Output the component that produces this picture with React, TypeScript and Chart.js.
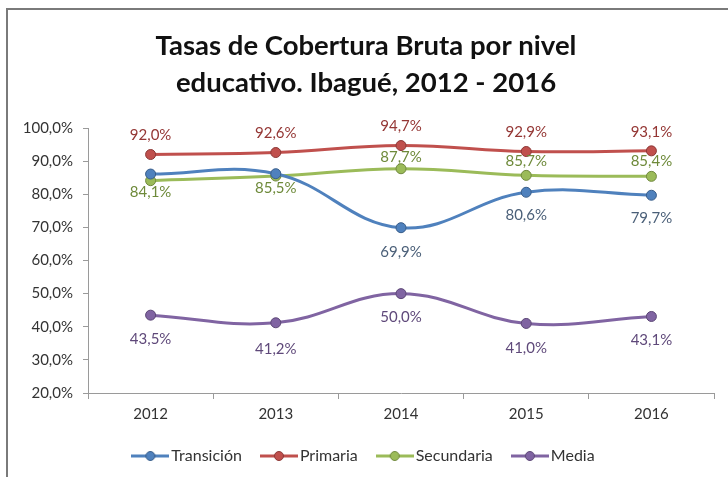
import React, { useEffect, useRef } from "react";
import { Chart, registerables } from "chart.js";

Chart.register(...registerables);

const years = ["2012", "2013", "2014", "2015", "2016"];
const seriesNames = ["Transición", "Primaria", "Secundaria", "Media"];
const transicion = [86.1, 86.2, 69.9, 80.6, 79.7];
const primaria = [92.0, 92.6, 94.7, 92.9, 93.1];
const secundaria = [84.1, 85.5, 87.7, 85.7, 85.4];
const media = [43.5, 41.2, 50.0, 41.0, 43.1];
const yMin = 20;
const yMax = 100;
const yStep = 10;
const titleLines = ["Tasas de Cobertura Bruta por nivel", "educativo. Ibagué, 2012 - 2016"];

// style
const lineColors = ["#4F81BD", "#C0504D", "#9BBB59", "#8064A2"];
const pointBorders = ["#385D8A", "#8C3836", "#71893F", "#5C4776"];
const labelColors = ["#4A5F78", "#943634", "#6E8A3A", "#5F497A"];
// vertical offset (px) of each value label from its point; null = no label
const labelOffsets: (number | null)[][] = [
  [null, null, 24, 23, 23],
  [-19, -19, -19, -19, -19],
  [11, 12, -12, -14, -15],
  [24, 26, 24, 25, 24],
];

const FONT = "Lato, 'Open Sans', sans-serif";

const fmt = (v: number) => v.toFixed(1).replace(".", ",") + "%";

function makeMarker(color: string, border: string) {
  const c = document.createElement("canvas");
  c.width = 38;
  c.height = 12;
  const ctx = c.getContext("2d")!;
  ctx.strokeStyle = color;
  ctx.lineWidth = 3;
  ctx.beginPath();
  ctx.moveTo(0, 6);
  ctx.lineTo(38, 6);
  ctx.stroke();
  ctx.beginPath();
  ctx.arc(19, 6, 4.5, 0, Math.PI * 2);
  ctx.fillStyle = color;
  ctx.fill();
  ctx.lineWidth = 1;
  ctx.strokeStyle = border;
  ctx.stroke();
  return c;
}

const framePlugin = {
  id: "frame",
  beforeDraw(chart: any) {
    const ctx = chart.ctx;
    ctx.save();
    ctx.fillStyle = "#ffffff";
    ctx.fillRect(0, 0, chart.width, chart.height);
    ctx.strokeStyle = "#7a7a7a";
    ctx.lineWidth = 2;
    ctx.beginPath();
    ctx.moveTo(7, chart.height);
    ctx.lineTo(7, 9);
    ctx.lineTo(chart.width, 9);
    ctx.stroke();
    ctx.restore();
  },
};

const dataLabelPlugin = {
  id: "dataLabels",
  afterDatasetsDraw(chart: any) {
    const ctx = chart.ctx;
    chart.data.datasets.forEach((ds: any, di: number) => {
      const meta = chart.getDatasetMeta(di);
      meta.data.forEach((pt: any, i: number) => {
        const off = labelOffsets[di][i];
        if (off === null || off === undefined) return;
        ctx.save();
        ctx.font = `15px ${FONT}`;
        ctx.fillStyle = labelColors[di];
        ctx.textAlign = "center";
        ctx.textBaseline = "middle";
        ctx.fillText(fmt(ds.data[i]), pt.x, pt.y + off);
        ctx.restore();
      });
    });
  },
};

export default function App() {
  const ref = useRef<HTMLCanvasElement | null>(null);

  useEffect(() => {
    if (!ref.current) return;
    const values = [transicion, primaria, secundaria, media];
    const markers = lineColors.map((c, i) => makeMarker(c, pointBorders[i]));
    const chart = new Chart(ref.current, {
      type: "line",
      data: {
        labels: years,
        datasets: seriesNames.map((name, i) => ({
          label: name,
          data: values[i],
          borderColor: lineColors[i],
          backgroundColor: lineColors[i],
          pointBackgroundColor: lineColors[i],
          pointBorderColor: pointBorders[i],
          pointBorderWidth: 1,
          pointRadius: 5,
          borderWidth: 3,
          tension: 0.4,
          fill: false,
        })),
      },
      options: {
        animation: false,
        responsive: false,
        devicePixelRatio: 1,
        layout: { padding: { left: 18, right: 14, top: 0, bottom: 3 } },
        plugins: {
          title: {
            display: true,
            text: titleLines,
            color: "#111111",
            font: { family: FONT, size: 27.5, weight: "bold", lineHeight: 37 / 27.5 },
            padding: { top: 28, bottom: 26 },
          },
          legend: {
            position: "bottom",
            labels: {
              usePointStyle: true,
              pointStyleWidth: 26,
              padding: 24,
              color: "#333333",
              font: { family: FONT, size: 16 },
              generateLabels: () =>
                seriesNames.map((name, i) => ({
                  text: name,
                  pointStyle: markers[i] as any,
                  fillStyle: lineColors[i],
                  strokeStyle: lineColors[i],
                  lineWidth: 0,
                  hidden: false,
                  datasetIndex: i,
                  fontColor: "#333333",
                })),
            },
          },
          tooltip: { enabled: false },
        },
        scales: {
          x: {
            offset: true,
            afterFit: (scale: any) => {
              scale.height = 31;
            },
            grid: {
              display: true,
              offset: true,
              drawOnChartArea: false,
              drawTicks: true,
              tickLength: 6,
              color: "#9a9a9a",
            },
            border: { display: true, color: "#9a9a9a", width: 1 },
            ticks: {
              color: "#333333",
              font: { family: FONT, size: 15 },
              padding: 6,
            },
          },
          y: {
            min: yMin,
            max: yMax,
            afterFit: (scale: any) => {
              scale.width = 70;
            },
            grid: {
              display: true,
              drawOnChartArea: false,
              drawTicks: true,
              tickLength: 5,
              color: "#9a9a9a",
            },
            border: { display: true, color: "#9a9a9a", width: 1 },
            ticks: {
              stepSize: yStep,
              color: "#333333",
              font: { family: FONT, size: 15 },
              padding: 10,
              callback: (v: any) => fmt(Number(v)),
            },
          },
        },
      },
      plugins: [framePlugin, dataLabelPlugin],
    });
    return () => chart.destroy();
  }, []);

  return (
    <div style={{ position: "fixed", left: 0, top: 0, width: 728, height: 477 }}>
      <canvas ref={ref} width={728} height={477} />
    </div>
  );
}
